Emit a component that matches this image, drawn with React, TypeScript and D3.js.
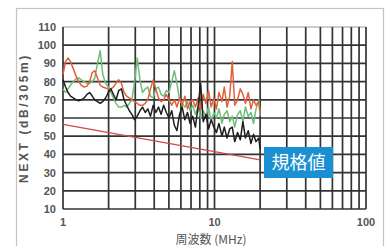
import React from 'react';
import * as d3 from 'd3';

// frequency points (MHz) shared by the three measured traces
const freqs = [1.0, 1.04, 1.08, 1.12, 1.17, 1.22, 1.27, 1.32, 1.38, 1.44, 1.5, 1.56, 1.62, 1.69, 1.76, 1.83, 1.91, 1.99, 2.07, 2.15, 2.24, 2.33, 2.43, 2.53, 2.63, 2.74, 2.85, 2.97, 3.09, 3.22, 3.35, 3.49, 3.63, 3.78, 3.94, 4.1, 4.27, 4.44, 4.62, 4.81, 5.01, 5.22, 5.43, 5.65, 5.88, 6.12, 6.37, 6.63, 6.9, 7.18, 7.48, 7.78, 8.1, 8.43, 8.78, 9.14, 9.51, 9.9, 10.3, 10.7, 11.2, 11.6, 12.1, 12.6, 13.1, 13.6, 14.2, 14.8, 15.4, 16.0, 16.7, 17.4, 18.1, 18.8, 19.6, 20.0];

const redTrace = [84, 91, 93, 91, 87, 83, 80, 78, 77, 77.5, 80, 85, 86, 82, 78, 77, 76.5, 76, 76, 77, 79, 81, 79, 74, 72, 71, 70, 69, 68, 67, 67, 68, 70, 76, 81, 76, 71, 69, 70, 73, 70, 67, 70, 66, 71, 67, 72, 65, 69, 70, 66, 71, 64, 73, 68, 75, 66, 71, 65, 74, 69, 77, 66, 72, 91, 67, 70, 76, 73, 68, 74, 65, 70, 67, 69, 63];

const greenTrace = [76, 74, 76, 78, 80, 81.5, 82, 81, 80, 79, 79, 80, 82, 90, 97, 84, 79, 77, 74, 71, 68, 66, 66, 67, 66, 68, 70, 80, 93, 81, 74, 76, 77, 72, 71, 76, 77, 73, 72, 75, 74, 80, 86, 79, 70, 68, 66, 69, 64, 67, 62, 66, 60, 64, 61, 66, 58, 63, 60, 65, 57, 62, 64, 58, 61, 55, 62, 64, 58, 66, 61, 63, 57, 65, 70, 61];

const blackTrace = [81, 77, 74, 72, 71, 70, 69.5, 70, 71, 73, 74, 72, 70, 69, 68, 69, 71, 74, 76, 73, 70, 75, 76, 70, 67, 64, 62, 59, 61, 64, 66, 63, 65, 61, 67, 63, 66, 62, 67, 63, 60, 64, 56, 53, 62, 66, 59, 63, 57, 61, 55, 66, 79, 58, 62, 54, 59, 55, 52, 57, 50, 55, 49, 54, 55, 47, 52, 48, 58, 49, 53, 46, 51, 47, 49, 43];

// spec limit (規格値)
const specFreqs = [1, 10, 20];
const specValues = [56.5, 41.5, 37];

const yTicks = [10, 20, 30, 40, 50, 60, 70, 80, 90, 100, 110];
const xLabels = [1, 10, 100];
const xGrid = [1, 2, 3, 4, 5, 6, 7, 8, 9, 10, 20, 30, 40, 50, 60, 70, 80, 90, 100];

export default function App() {
  const width = 389;
  const height = 246;
  const margin = { top: 27, right: 23, bottom: 37, left: 63 };

  const x = d3.scaleLog().domain([1, 100]).range([margin.left, width - margin.right]);
  const y = d3.scaleLinear().domain([10, 110]).range([height - margin.bottom, margin.top]);

  const line = d3.line<[number, number]>()
    .x(d => x(d[0]))
    .y(d => y(d[1]));

  const traces = [
    { values: greenTrace, color: '#6cbf78' },
    { values: redTrace, color: '#e2603c' },
    { values: blackTrace, color: '#1e1e1e' },
  ];

  const font = 'Arial, "Liberation Sans", sans-serif';

  return (
    <svg width={width} height={height} style={{ position: 'absolute', left: 0, top: 0, background: '#fff' }}>
      {/* outer frame */}
      <rect x={16.5} y={8.5} width={367} height={250} fill="none" stroke="#c4c4c4" strokeWidth={1.2} />

      {/* grid */}
      <g stroke="#333" strokeWidth={1.7}>
        {yTicks.map(t => (
          <line key={'h' + t} x1={x(1)} x2={x(100)} y1={y(t)} y2={y(t)} stroke={t === 110 ? '#999' : '#333'} strokeWidth={t === 110 ? 1 : 1.7} />
        ))}
        {xGrid.map(f => (
          <line key={'v' + f} x1={x(f)} x2={x(f)} y1={y(110)} y2={y(10)} />
        ))}
      </g>

      {/* spec line */}
      <path
        d={line(specFreqs.map((f, i) => [f, specValues[i]]) as [number, number][]) || ''}
        fill="none"
        stroke="#cc4b4b"
        strokeWidth={1.3}
      />

      {/* measured traces */}
      {traces.map((t, i) => (
        <path
          key={i}
          d={line(freqs.map((f, j) => [f, t.values[j]]) as [number, number][]) || ''}
          fill="none"
          stroke={t.color}
          strokeWidth={1.5}
          strokeLinejoin="round"
        />
      ))}

      {/* y tick labels */}
      {yTicks.map(t => (
        <text key={'yt' + t} x={56} y={y(t) + 4} textAnchor="end" fontSize={11} fontFamily={font} fontWeight="bold" fill="#555">
          {t}
        </text>
      ))}

      {/* x tick labels */}
      {xLabels.map(f => (
        <text key={'xt' + f} x={x(f)} y={226} textAnchor="middle" fontSize={11} fontFamily={font} fontWeight="bold" fill="#555">
          {f}
        </text>
      ))}

      {/* axis titles */}
      <text
        transform={`translate(28,${(y(10) + y(110)) / 2}) rotate(-90)`}
        textAnchor="middle"
        fontSize={12}
        fontFamily={font}
        fontWeight="bold"
        letterSpacing={2.6}
        fill="#555"
      >
        NEXT (dB/305m)
      </text>
      <text x={211} y={244} textAnchor="middle" fontSize={12} fontFamily='"Noto Sans CJK JP", sans-serif' fill="#555">
        周波数 (MHz)
      </text>

      {/* spec label */}
      <rect x={264} y={147} width={69} height={31} fill="#1a90d2" />
      <text x={298.5} y={169} textAnchor="middle" fontSize={18} fontFamily='"Noto Sans CJK JP", sans-serif' fill="#fff">
        規格値
      </text>
    </svg>
  );
}
